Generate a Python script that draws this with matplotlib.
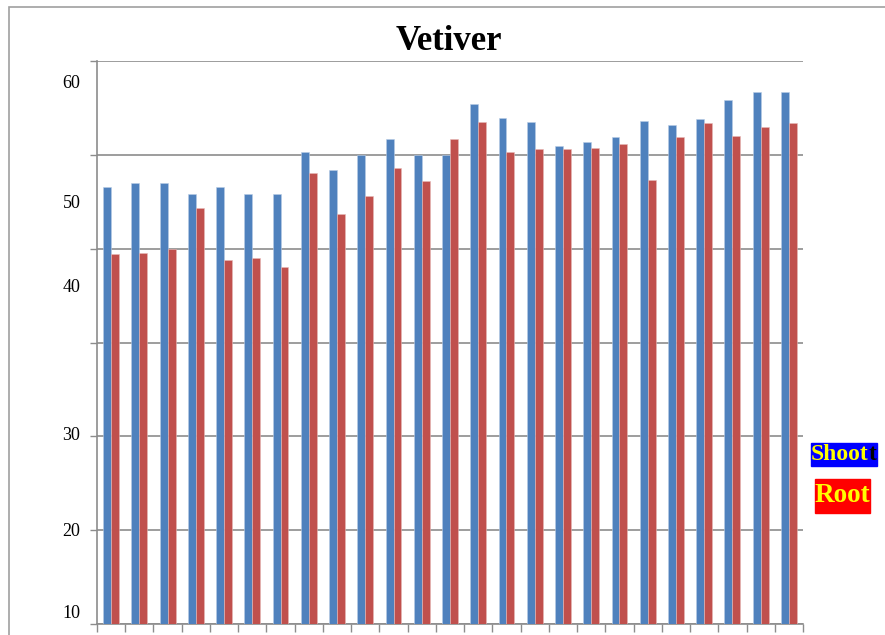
import numpy as np
import matplotlib
matplotlib.use("Agg")
import matplotlib.pyplot as plt
from matplotlib.patches import Rectangle
from matplotlib.text import Annotation

# Vetiver shoot / root values, 25 samples
shoot = [46.6, 47.0, 47.0, 45.9, 46.6, 45.9, 45.9, 50.3, 48.4, 50.0,
         51.7, 50.0, 50.0, 55.5, 54.0, 53.5, 51.0, 51.4, 51.9, 53.6,
         53.2, 53.8, 55.9, 56.7, 56.7]
root = [39.5, 39.6, 40.0, 44.4, 38.8, 39.0, 38.1, 48.1, 43.7, 45.6,
        48.6, 47.2, 51.7, 53.5, 50.3, 50.7, 50.7, 50.8, 51.2, 47.3,
        51.9, 53.4, 52.0, 53.0, 53.4]

# the y labels in the source sit off their gridlines
ylabel_pos = [57.8, 45.0, 36.1, 20.3, 10.1, 1.3]
ylabel_txt = ["60", "50", "40", "30", "20", "10"]

serif = ["Liberation Serif", "DejaVu Serif"]
blue = "#4F81BD"
red = "#C0504D"
grid_c = "#8C8C8C"

fig = plt.figure(figsize=(8.85, 6.35), dpi=100)
ax = fig.add_axes([97 / 885, 11 / 635, 706 / 885, 562.7 / 635])

x = np.arange(len(shoot))
w = 0.28
ax.bar(x - w / 2, shoot, w, color=blue, edgecolor="#B9CDE5", linewidth=0.4, zorder=3)
ax.bar(x + w / 2, root, w, color=red, edgecolor="#E6B9B8", linewidth=0.4, zorder=3)

ax.set_xlim(-0.5, len(shoot) - 0.5)
ax.set_ylim(0, 60)

# gridlines every 10, labels placed where the source has them
ax.set_yticks(np.arange(0, 61, 10))
ax.set_yticklabels([])
ax.yaxis.grid(True, color=grid_c, linewidth=1.2, zorder=0)
ax.tick_params(axis="y", which="major", length=5, color=grid_c, width=1)
ax.set_yticks(ylabel_pos, minor=True)
ax.set_yticklabels(ylabel_txt, minor=True, fontfamily=serif, fontsize=13)
ax.tick_params(axis="y", which="minor", length=0, pad=12)

ax.set_xticks(np.arange(-0.5, len(shoot), 1))
ax.set_xticklabels([])
ax.tick_params(axis="x", length=6, color=grid_c, width=1, direction="out")

for s in ["top", "right"]:
    ax.spines[s].set_visible(False)
for s in ["left", "bottom"]:
    ax.spines[s].set_color(grid_c)
    ax.spines[s].set_linewidth(1.2)

fig.text(449 / 885, 1 - 42 / 635, "Vetiver", ha="center", va="center",
         fontfamily=serif, fontweight="bold", fontsize=25)

# outer frame
fig.patches.append(Rectangle((9 / 885, -0.1), 1.2, 1 - 7 / 635 + 0.1,
                             transform=fig.transFigure, fill=False,
                             edgecolor="#A0A0A0", linewidth=1.2))

# hand-made legend boxes
fig.patches.append(Rectangle((811 / 885, 1 - 466 / 635), 66 / 885, 23.5 / 635,
                             transform=fig.transFigure, color="#0000FF"))
shoot_txt = fig.text(811 / 885, 1 - 455 / 635, "Shoot", ha="left", va="center",
                     fontfamily=serif, fontweight="bold", fontsize=17, color="#FFFF00")
# stray black "t" right after the yellow word, as in the source
fig.add_artist(Annotation("t", xy=(1, 0.5), xycoords=shoot_txt, ha="left", va="center",
                          fontfamily=serif, fontweight="bold", fontsize=17, color="black"))
fig.patches.append(Rectangle((815 / 885, 1 - 513 / 635), 55 / 885, 34 / 635,
                             transform=fig.transFigure, color="#FF0000"))
fig.text(842.5 / 885, 1 - 496 / 635, "Root", ha="center", va="center",
         fontfamily=serif, fontweight="bold", fontsize=19.5, color="#FFFF00")

fig.savefig("out.png", dpi=100)
